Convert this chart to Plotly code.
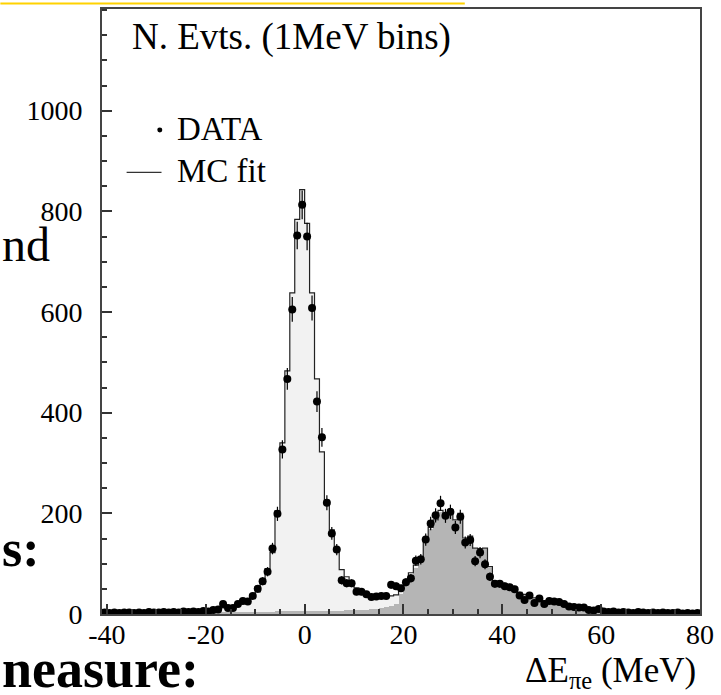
import numpy as np
import plotly.graph_objects as go

# ---------------- data (1 MeV bins, centres -40.5 ... 79.5) ----------------
bin_centers = np.arange(-40.5, 80.0, 1.0)

data_counts = [
    3, 2, 3, 2, 3, 3, 2, 3, 2, 4, 3, 3, 4, 3, 4, 3, 5, 4, 5, 4, 6,          # -40.5 .. -20.5
    5, 8, 9, 20, 12, 12, 20, 26, 25, 36, 50, 65, 84, 130, 199, 327, 467, 605, 752, 813,  # -19.5 .. -0.5
    750, 608, 422, 351, 221, 160, 128, 67, 61, 61,                          # 0.5 .. 9.5
    44, 44, 39, 34, 35, 36, 36, 58, 55, 51,                                 # 10.5 .. 19.5
    63, 71, 106, 109, 148, 180, 196, 220, 195, 203,                         # 20.5 .. 29.5
    172, 193, 142, 147, 105, 122, 99, 74, 60, 60,                           # 30.5 .. 39.5
    55, 53, 49, 37, 28, 37, 22, 31, 20, 26,                                 # 40.5 .. 49.5
    25, 24, 20, 15, 14, 13, 13, 8, 7, 10,                                   # 50.5 .. 59.5
    5, 4, 5, 3, 4, 3, 2, 4, 3, 2,                                           # 60.5 .. 69.5
    3, 2, 3, 2, 2, 3, 1, 2, 1, 2,                                           # 70.5 .. 79.5
]

mc_total = [
    3, 3, 3, 3, 3, 3, 3, 3, 3, 3, 4, 4, 4, 4, 4, 4, 4, 5, 5, 5, 6,
    6, 7, 9, 12, 14, 16, 19, 23, 28, 34, 44, 60, 90, 122, 205, 340, 483, 638, 784, 843,
    776, 638, 467, 322, 226, 167, 124, 88, 74, 62,
    52, 45, 40, 36, 35, 35, 35, 36, 38, 50,
    62, 82, 97, 114, 148, 172, 187, 206, 200, 206,
    187, 200, 151, 155, 131, 130, 131, 94, 65, 60,
    55, 51, 47, 43, 39, 35, 32, 29, 26, 24,
    22, 20, 18, 16, 14, 12, 11, 10, 9, 8,
    7, 6, 5, 5, 4, 4, 4, 3, 3, 3,
    3, 3, 3, 3, 2, 2, 2, 2, 2, 2,
]

mc_second = [
    0, 0, 0, 0, 0, 0, 0, 0, 0, 0, 1, 1, 1, 1, 1, 1, 1, 1, 1, 1, 1,
    2, 2, 2, 2, 2, 3, 3, 3, 3, 3, 4, 4, 4, 4, 5, 5, 5, 5, 5, 5,
    5, 5, 5, 6, 6, 6, 6, 6, 7, 7,
    7, 8, 8, 9, 10, 11, 13, 16, 20, 40,
    55, 75, 92, 110, 144, 168, 184, 203, 197, 203,
    185, 198, 149, 153, 129, 128, 129, 92, 63, 58,
    53, 49, 45, 41, 37, 33, 30, 27, 24, 22,
    20, 18, 16, 14, 12, 10, 9, 8, 7, 6,
    5, 4, 4, 4, 3, 3, 3, 2, 2, 2,
    2, 2, 2, 2, 1, 1, 1, 1, 1, 1,
]

x_tick_vals = [-40, -20, 0, 20, 40, 60, 80]
x_tick_text = ["-40", "-20", "0", "20", "40", "60", "80"]
y_tick_vals = [0, 200, 400, 600, 800, 1000]
y_tick_text = ["0", "200", "400", "600", "800", "1000"]

# ---------------- layout helpers ----------------
W, H = 721, 695
L, R, T, B = 102, 19, 6.5, 80.7
PW, PH = W - L - R, H - T - B


def px(x):
    return (x - L) / PW


def py(y):
    return (H - B - y) / PH


FONT = "Liberation Serif, Times New Roman, serif"

# step line for the MC fit (built from the bin centres)
edges = np.append(bin_centers - 0.5, bin_centers[-1] + 0.5)
mc_step = list(mc_total) + [mc_total[-1]]

fig = go.Figure()
fig.add_trace(go.Bar(x=bin_centers, y=mc_total, width=1.0,
                     marker=dict(color="#f2f2f2", line=dict(width=0)),
                     hoverinfo="skip", showlegend=False))
fig.add_trace(go.Bar(x=bin_centers, y=mc_second, width=1.0,
                     marker=dict(color="#b5b5b5", line=dict(width=0)),
                     hoverinfo="skip", showlegend=False))
fig.add_trace(go.Scatter(x=edges, y=mc_step, mode="lines", line_shape="hv",
                         line=dict(color="#222222", width=1.2),
                         name="MC fit", showlegend=False))
fig.add_trace(go.Scatter(x=bin_centers, y=data_counts, mode="markers",
                         marker=dict(color="black", size=8),
                         error_y=dict(type="data", array=np.sqrt(data_counts),
                                      thickness=1.2, width=0, color="black"),
                         name="DATA", showlegend=False))

axis_common = dict(
    ticks="inside", ticklen=10, tickwidth=1.5, tickcolor="#333333",
    showline=True, linecolor="#444444", linewidth=2, mirror=True,
    showgrid=False, zeroline=False,
    tickfont=dict(family=FONT, size=28, color="black"),
)

fig.update_xaxes(range=[-41, 80], tickmode="array", tickvals=x_tick_vals,
                 ticktext=x_tick_text,
                 minor=dict(ticks="inside", ticklen=5, dtick=5, tick0=0,
                            tickcolor="#333333", tickwidth=1.5, showgrid=False),
                 ticklabelstandoff=-6, **axis_common)
fig.update_yaxes(range=[0, 1202], tickmode="array", tickvals=y_tick_vals,
                 ticktext=y_tick_text,
                 minor=dict(ticks="inside", ticklen=5, dtick=50, tick0=0,
                            tickcolor="#333333", tickwidth=1.5, showgrid=False),
                 ticklabelstandoff=12, **axis_common)

annotations = [
    dict(text="N. Evts. (1MeV bins)", x=px(130), y=py(35), xanchor="left",
         yanchor="middle", font=dict(family=FONT, size=37, color="black")),
    dict(text="DATA", x=px(175), y=py(127), xanchor="left", yanchor="middle",
         font=dict(family=FONT, size=33, color="black")),
    dict(text="MC fit", x=px(175), y=py(169), xanchor="left", yanchor="middle",
         font=dict(family=FONT, size=33, color="black")),
    dict(text="ΔE<sub>πe</sub> (MeV)", x=px(700), y=py(673), xanchor="right",
         yanchor="middle", font=dict(family=FONT, size=35, color="black")),
    dict(text="nd", x=px(0), y=py(243), xanchor="left", yanchor="middle",
         font=dict(family=FONT, size=48, color="black")),
    dict(text="<b>s:</b>", x=px(0), y=py(548), xanchor="left", yanchor="middle",
         font=dict(family=FONT, size=52, color="black")),
    dict(text="<b>neasure:</b>", x=px(0), y=py(670), xanchor="left", yanchor="middle",
         font=dict(family=FONT, size=54, color="black")),
]
for a in annotations:
    a.update(xref="paper", yref="paper", showarrow=False)

shapes = [
    dict(type="rect", xref="paper", yref="paper", x0=px(0), x1=px(466),
         y0=py(0), y1=py(2), fillcolor="#FFD200", line=dict(width=0), layer="above"),
    dict(type="circle", xref="paper", yref="paper", x0=px(157.5), x1=px(162.5),
         y0=py(130.5), y1=py(125.5), fillcolor="black", line=dict(width=0)),
    dict(type="line", xref="paper", yref="paper", x0=px(126.7), x1=px(161.7),
         y0=py(170.7), y1=py(170.7), line=dict(color="#333333", width=1.2)),
]

fig.update_layout(
    width=W, height=H, autosize=False,
    margin=dict(l=L, r=R, t=T, b=B, pad=0),
    paper_bgcolor="white", plot_bgcolor="white",
    barmode="overlay", bargap=0,
    annotations=annotations, shapes=shapes,
    font=dict(family=FONT, color="black"),
)

fig.write_html("out.html",
               config={"displayModeBar": False},
               post_script="document.body.style.margin='0';"
                           "document.body.style.overflow='hidden';")
